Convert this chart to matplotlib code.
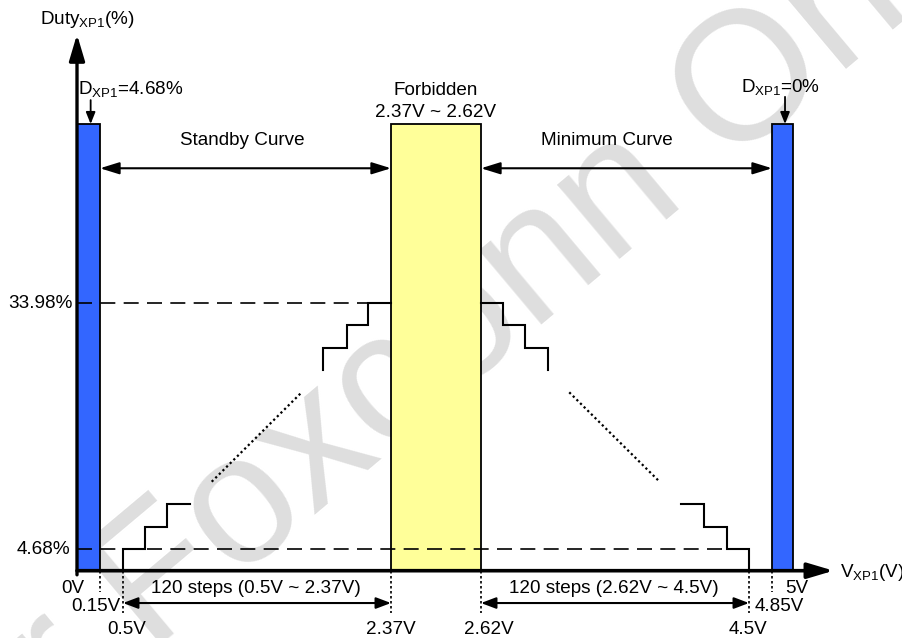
import numpy as np
import matplotlib
matplotlib.use('Agg')
import matplotlib.pyplot as plt

plt.rcParams['font.family'] = ['Liberation Sans', 'DejaVu Sans']
plt.rcParams['mathtext.default'] = 'regular'

# --- values ---
volt_marks = [0, 0.15, 0.5, 2.37, 2.62, 4.5, 4.85, 5.0]
duty_marks = [0, 4.68, 33.98, 100]
duty_min = 4.68
duty_max = 33.98
forbidden = (2.37, 2.62)

standby_low_v = [0.5, 0.5, 0.654, 0.654, 0.805, 0.805, 0.968]
standby_low_d = [0, 4.68, 4.68, 7.37, 7.37, 10.08, 10.08]
standby_mid_v = [1.119, 1.747]
standby_mid_d = [12.73, 23.38]
standby_high_v = [1.898, 1.898, 2.061, 2.061, 2.212, 2.212, 2.37]
standby_high_d = [26.04, 28.69, 28.69, 31.39, 31.39, 33.98, 33.98]

minimum_high_v = [2.62, 2.772, 2.772, 2.931, 2.931, 3.088, 3.088]
minimum_high_d = [33.98, 33.98, 31.39, 31.39, 28.69, 28.69, 26.04]
minimum_mid_v = [3.239, 3.873]
minimum_mid_d = [23.38, 12.73]
minimum_low_v = [4.023, 4.186, 4.186, 4.344, 4.344, 4.5, 4.5]
minimum_low_d = [10.08, 10.08, 7.37, 7.37, 4.68, 4.68, 0]

# --- schematic (not to scale) axes: piecewise-linear scales ---
def piecewise(xin, xout):
    xin = np.asarray(xin, float)
    xout = np.asarray(xout, float)
    s0 = (xout[1] - xout[0]) / (xin[1] - xin[0])
    s1 = (xout[-1] - xout[-2]) / (xin[-1] - xin[-2])

    def f(v):
        v = np.asarray(v, float)
        out = np.interp(v, xin, xout)
        out = np.where(v < xin[0], xout[0] + (v - xin[0]) * s0, out)
        out = np.where(v > xin[-1], xout[-1] + (v - xin[-1]) * s1, out)
        return out
    return f

W, H = 903, 638
x_px = [77, 100, 123, 391, 481, 749, 772, 793]
y_px = [H - 570.7, H - 549.3, H - 303.3, H - 124]
fx, fx_inv = piecewise(volt_marks, x_px), piecewise(x_px, volt_marks)
fy, fy_inv = piecewise(duty_marks, y_px), piecewise(y_px, duty_marks)

fig = plt.figure(figsize=(W / 100, H / 100), dpi=100)
ax = fig.add_axes([0, 0, 1, 1])
ax.set_xscale('function', functions=(fx, fx_inv))
ax.set_yscale('function', functions=(fy, fy_inv))
ax.set_xlim(float(fx_inv(0)), float(fx_inv(W)))
ax.set_ylim(float(fy_inv(0)), float(fy_inv(H)))
ax.axis('off')

top = duty_marks[-1]
fs = 13.6

# watermark
ax.text(0.50, 0.47, 'for Foxconn Only', transform=ax.transAxes, fontsize=132,
        color='#dedede', rotation=40, ha='center', va='center', zorder=0)

# bars
ax.bar(volt_marks[0], top, width=volt_marks[1] - volt_marks[0], align='edge',
       color='#3366ff', edgecolor='k', lw=1.3, zorder=2)
ax.bar(volt_marks[-2], top, width=volt_marks[-1] - volt_marks[-2], align='edge',
       color='#3366ff', edgecolor='k', lw=1.3, zorder=2)
ax.bar(forbidden[0], top, width=forbidden[1] - forbidden[0], align='edge',
       color='#ffff99', edgecolor='k', lw=1.3, zorder=2)

# reference levels
ax.plot([0, forbidden[0]], [duty_max, duty_max], 'k', lw=1.2,
        ls=(0, (9, 5)), zorder=3)
ax.plot([0, minimum_low_v[3]], [duty_min, duty_min], 'k', lw=1.2,
        ls=(0, (9, 5)), zorder=3)

# staircases
for vv, dd in [(standby_low_v, standby_low_d), (standby_high_v, standby_high_d),
               (minimum_high_v, minimum_high_d), (minimum_low_v, minimum_low_d)]:
    ax.plot(vv, dd, 'k', lw=1.5, zorder=4, solid_joinstyle='miter')
for vv, dd in [(standby_mid_v, standby_mid_d), (minimum_mid_v, minimum_mid_d)]:
    ax.plot(vv, dd, 'k', lw=1.6, ls=(0, (1, 1.3)), zorder=4)

# axes with arrow heads
head = '-|>,head_length=0.79,head_width=0.235'
ax.annotate('', xy=(5.29, 0), xytext=(0, 0), zorder=5,
            arrowprops=dict(arrowstyle=head, mutation_scale=20, lw=2.6,
                            color='k', shrinkA=0, shrinkB=0))
ax.annotate('', xy=(0, 133), xytext=(0, -0.9), zorder=5,
            arrowprops=dict(arrowstyle=head, mutation_scale=20, lw=2.4,
                            color='k', shrinkA=0, shrinkB=0))

# region arrows
dbl = dict(arrowstyle='<|-|>,head_length=0.58,head_width=0.18',
           mutation_scale=20, lw=1.5, color='k', shrinkA=0, shrinkB=0)
ax.annotate('', xy=(0.15, 83.7), xytext=(forbidden[0], 83.7), arrowprops=dbl)
ax.annotate('', xy=(forbidden[1], 83.7), xytext=(4.85, 83.7), arrowprops=dbl)
dbl_s = dict(dbl, arrowstyle='<|-|>,head_length=0.45,head_width=0.17')
ax.annotate('', xy=(0.5, -7.07), xytext=(2.37, -7.07), arrowprops=dbl_s)
ax.annotate('', xy=(2.62, -7.07), xytext=(4.5, -7.07), arrowprops=dbl_s)

down = dict(arrowstyle='-|>,head_length=0.5,head_width=0.2',
            mutation_scale=14, lw=1.3, color='k', shrinkA=0, shrinkB=0)
ax.annotate('', xy=(0.089, top), xytext=(0.089, 108.8), arrowprops=down)
ax.annotate('', xy=(4.943, top), xytext=(4.943, 110), arrowprops=down)

# dotted drop lines below the axis
for v, d in [(0.15, -4.6), (4.85, -4.6), (0.5, -9.26), (2.37, -9.26),
             (2.62, -9.26), (4.5, -9.26)]:
    ax.plot([v, v], [0, d], 'k', lw=1.2, ls=(0, (1.5, 1.5)), zorder=1)

# text
ax.text(0.065, 138.3, 'Duty$_{XP1}$(%)', fontsize=fs, ha='center', va='center')
ax.text(0.0065, 113.0, 'D$_{XP1}$=4.68%', fontsize=fs, ha='left', va='center')
ax.text(4.444, 113.6, 'D$_{XP1}$=0%', fontsize=fs, ha='left', va='center')
ax.text(1.33, 94.1, 'Standby Curve', fontsize=fs, ha='center', va='center')
ax.text(3.504, 94.1, 'Minimum Curve', fontsize=fs, ha='center', va='center')
ax.text(2.495, 112.5, 'Forbidden', fontsize=fs, ha='center', va='center')
ax.text(2.495, 104.3, '2.37V ~ 2.62V', fontsize=fs, ha='center', va='center')
ax.text(-0.026, duty_max, '33.98%', fontsize=fs, ha='right', va='center')
ax.text(-0.046, duty_min, '4.68%', fontsize=fs, ha='right', va='center')
ax.text(5.336, -0.5, 'V$_{XP1}$(V)', fontsize=fs, ha='left', va='center')

ax.text(-0.026, -3.79, '0V', fontsize=fs, ha='center', va='center')
ax.text(0.124, -7.72, '0.15V', fontsize=fs, ha='center', va='center')
ax.text(0.528, -12.76, '0.5V', fontsize=fs, ha='center', va='center')
ax.text(2.37, -12.76, '2.37V', fontsize=fs, ha='center', va='center')
ax.text(2.676, -12.76, '2.62V', fontsize=fs, ha='center', va='center')
ax.text(4.493, -12.76, '4.5V', fontsize=fs, ha='center', va='center')
ax.text(4.9, -7.72, '4.85V', fontsize=fs, ha='center', va='center')
ax.text(5.029, -3.79, '5V', fontsize=fs, ha='center', va='center')
ax.text(1.428, -3.79, '120 steps (0.5V ~ 2.37V)', fontsize=fs,
        ha='center', va='center')
ax.text(3.553, -3.79, '120 steps (2.62V ~ 4.5V)', fontsize=fs,
        ha='center', va='center')

fig.savefig('out.png', dpi=100)
